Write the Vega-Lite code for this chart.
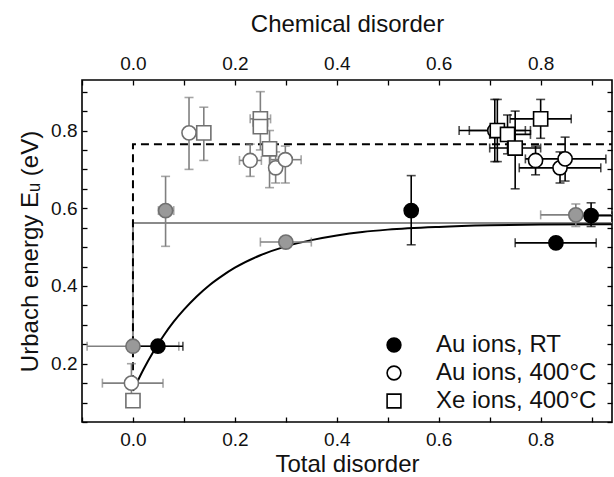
{
  "$schema": "https://vega.github.io/schema/vega-lite/v6.json",
  "width": 530,
  "height": 342,
  "autosize": {"type": "none"},
  "padding": {"left": 82, "top": 80, "right": 2, "bottom": 55},
  "background": "white",
  "config": {
    "font": "Liberation Sans",
    "view": {"stroke": "black", "strokeWidth": 1.6},
    "axis": {"grid": false, "domain": false, "tickColor": "black", "tickWidth": 1.3, "labelColor": "#111", "titleColor": "#111", "labelFont": "Liberation Sans", "titleFont": "Liberation Sans", "titleFontWeight": "normal", "labelOverlap": false}
  },
  "datasets": {
    "curve": [
      {"x": 0.0, "y": 0.13}, {"x": 0.02, "y": 0.184}, {"x": 0.04, "y": 0.231}, {"x": 0.06, "y": 0.272},
      {"x": 0.08, "y": 0.308}, {"x": 0.1, "y": 0.339}, {"x": 0.125, "y": 0.373}, {"x": 0.15, "y": 0.402},
      {"x": 0.175, "y": 0.426}, {"x": 0.2, "y": 0.447}, {"x": 0.25, "y": 0.479}, {"x": 0.3, "y": 0.502},
      {"x": 0.35, "y": 0.518}, {"x": 0.4, "y": 0.53}, {"x": 0.45, "y": 0.539}, {"x": 0.5, "y": 0.545},
      {"x": 0.6, "y": 0.552}, {"x": 0.7, "y": 0.556}, {"x": 0.8, "y": 0.558}, {"x": 0.94, "y": 0.559}
    ],
    "graystep": [
      {"i": 1, "x": 0.0, "y": 0.24}, {"i": 2, "x": 0.0, "y": 0.562}, {"i": 3, "x": 0.94, "y": 0.562}
    ],
    "dashstep": [
      {"i": 1, "x": 0.0, "y": 0.15}, {"i": 2, "x": 0.0, "y": 0.765}, {"i": 3, "x": 0.94, "y": 0.765}
    ],
    "pts": [
      {"set": "ref", "tone": "gray", "x": 0.0, "y": 0.245, "xlo": -0.09, "xhi": 0.09, "ylo": null, "yhi": null},
      {"set": "ref", "tone": "gray", "x": 0.064, "y": 0.594, "xlo": 0.05, "xhi": 0.08, "ylo": 0.502, "yhi": 0.682},
      {"set": "ref", "tone": "gray", "x": 0.3, "y": 0.513, "xlo": 0.25, "xhi": 0.35, "ylo": 0.5, "yhi": 0.525},
      {"set": "ref", "tone": "gray", "x": 0.869, "y": 0.583, "xlo": 0.8, "xhi": 0.94, "ylo": 0.553, "yhi": 0.611},
      {"set": "Au ions, RT", "tone": "black", "x": 0.049, "y": 0.245, "xlo": 0.0, "xhi": 0.098, "ylo": null, "yhi": null},
      {"set": "Au ions, RT", "tone": "black", "x": 0.546, "y": 0.594, "xlo": null, "xhi": null, "ylo": 0.506, "yhi": 0.684},
      {"set": "Au ions, RT", "tone": "black", "x": 0.83, "y": 0.511, "xlo": 0.75, "xhi": 0.909, "ylo": null, "yhi": null},
      {"set": "Au ions, RT", "tone": "black", "x": 0.899, "y": 0.581, "xlo": 0.86, "xhi": 0.94, "ylo": 0.553, "yhi": 0.614},
      {"set": "Au ions, 400°C", "tone": "gray", "x": -0.003, "y": 0.15, "xlo": -0.06, "xhi": 0.059, "ylo": 0.1, "yhi": 0.2},
      {"set": "Au ions, 400°C", "tone": "gray", "x": 0.11, "y": 0.794, "xlo": null, "xhi": null, "ylo": 0.7, "yhi": 0.885},
      {"set": "Au ions, 400°C", "tone": "gray", "x": 0.23, "y": 0.723, "xlo": 0.209, "xhi": 0.252, "ylo": 0.682, "yhi": 0.765},
      {"set": "Au ions, 400°C", "tone": "gray", "x": 0.28, "y": 0.704, "xlo": null, "xhi": null, "ylo": 0.665, "yhi": 0.745},
      {"set": "Au ions, 400°C", "tone": "gray", "x": 0.299, "y": 0.725, "xlo": 0.27, "xhi": 0.33, "ylo": 0.665, "yhi": 0.76},
      {"set": "Au ions, 400°C", "tone": "black", "x": 0.71, "y": 0.8, "xlo": 0.64, "xhi": 0.78, "ylo": 0.72, "yhi": 0.88},
      {"set": "Au ions, 400°C", "tone": "black", "x": 0.79, "y": 0.723, "xlo": null, "xhi": null, "ylo": 0.686, "yhi": 0.76},
      {"set": "Au ions, 400°C", "tone": "black", "x": 0.838, "y": 0.704, "xlo": 0.758, "xhi": 0.918, "ylo": 0.665, "yhi": 0.745},
      {"set": "Au ions, 400°C", "tone": "black", "x": 0.848, "y": 0.727, "xlo": 0.77, "xhi": 0.928, "ylo": 0.67, "yhi": 0.783},
      {"set": "Xe ions, 400°C", "tone": "gray", "x": 0.0, "y": 0.105, "xlo": null, "xhi": null, "ylo": null, "yhi": null},
      {"set": "Xe ions, 400°C", "tone": "gray", "x": 0.139, "y": 0.794, "xlo": null, "xhi": null, "ylo": 0.723, "yhi": 0.86},
      {"set": "Xe ions, 400°C", "tone": "gray", "x": 0.25, "y": 0.83, "xlo": 0.23, "xhi": 0.27, "ylo": 0.75, "yhi": 0.9},
      {"set": "Xe ions, 400°C", "tone": "gray", "x": 0.25, "y": 0.81, "xlo": null, "xhi": null, "ylo": null, "yhi": null},
      {"set": "Xe ions, 400°C", "tone": "gray", "x": 0.268, "y": 0.753, "xlo": null, "xhi": null, "ylo": 0.653, "yhi": 0.8},
      {"set": "Xe ions, 400°C", "tone": "black", "x": 0.715, "y": 0.8, "xlo": 0.66, "xhi": 0.77, "ylo": 0.72, "yhi": 0.88},
      {"set": "Xe ions, 400°C", "tone": "black", "x": 0.735, "y": 0.79, "xlo": 0.7, "xhi": 0.78, "ylo": 0.74, "yhi": 0.84},
      {"set": "Xe ions, 400°C", "tone": "black", "x": 0.75, "y": 0.755, "xlo": 0.7, "xhi": 0.8, "ylo": 0.65, "yhi": 0.85},
      {"set": "Xe ions, 400°C", "tone": "black", "x": 0.8, "y": 0.83, "xlo": 0.74, "xhi": 0.86, "ylo": 0.78, "yhi": 0.88}
    ]
  },
  "layer": [
    {
      "layer": [
        {
          "data": {"name": "graystep"},
          "mark": {"type": "line", "color": "#8a8a8a", "strokeWidth": 2},
          "encoding": {
            "x": {"field": "x", "type": "quantitative", "title": "Total disorder"},
            "y": {"field": "y", "type": "quantitative", "title": "Urbach energy Eᵤ (eV)"},
            "order": {"field": "i"}
          }
        },
        {
          "data": {"name": "dashstep"},
          "mark": {"type": "line", "color": "black", "strokeWidth": 2, "strokeDash": [8, 5]},
          "encoding": {
            "x": {"field": "x", "type": "quantitative", "title": "Total disorder"},
            "y": {"field": "y", "type": "quantitative", "title": "Urbach energy Eᵤ (eV)"},
            "order": {"field": "i"}
          }
        },
        {
          "data": {"name": "curve"},
          "mark": {"type": "line", "color": "black", "strokeWidth": 2, "interpolate": "monotone"},
          "encoding": {
            "x": {"field": "x", "type": "quantitative", "title": "Total disorder"},
            "y": {"field": "y", "type": "quantitative", "title": "Urbach energy Eᵤ (eV)"}
          }
        },
        {
          "data": {"name": "pts"},
          "transform": [{"filter": "isValid(datum.xlo)"}],
          "mark": {"type": "errorbar", "ticks": true, "thickness": 1.6, "size": 9},
          "encoding": {
            "x": {"field": "xlo", "type": "quantitative", "title": "Total disorder"},
            "x2": {"field": "xhi"},
            "y": {"field": "y", "type": "quantitative", "title": "Urbach energy Eᵤ (eV)"},
            "color": {"field": "tone", "type": "nominal", "scale": {"domain": ["gray", "black"], "range": ["#808080", "#000000"]}, "legend": null}
          }
        },
        {
          "data": {"name": "pts"},
          "transform": [{"filter": "isValid(datum.ylo)"}],
          "mark": {"type": "errorbar", "ticks": true, "thickness": 1.6, "size": 9},
          "encoding": {
            "y": {"field": "ylo", "type": "quantitative", "title": "Urbach energy Eᵤ (eV)"},
            "y2": {"field": "yhi"},
            "x": {"field": "x", "type": "quantitative", "title": "Total disorder"},
            "color": {"field": "tone", "type": "nominal", "scale": {"domain": ["gray", "black"], "range": ["#808080", "#000000"]}, "legend": null}
          }
        },
        {
          "data": {"name": "pts"},
          "transform": [{"filter": "datum.tone == 'black'"}],
          "mark": {"type": "point", "filled": true, "size": 200, "strokeWidth": 1.6, "opacity": 1, "fillOpacity": 1},
          "encoding": {
            "x": {"field": "x", "type": "quantitative", "title": "Total disorder", "scale": {"domain": [-0.1, 0.94], "nice": false, "zero": false},
              "axis": {"orient": "bottom", "values": [-0.1, 0.0, 0.1, 0.2, 0.3, 0.4, 0.5, 0.6, 0.7, 0.8, 0.9],
                "labelExpr": "(round(datum.value*10) % 2 == 0) ? format(datum.value, '.1f') : ''",
                "tickSize": -5, "labelPadding": 13, "labelFontSize": 19, "titleFontSize": 24, "titlePadding": 3, "labelFlush": false, "labelOverlap": false}},
            "y": {"field": "y", "type": "quantitative", "title": "Urbach energy Eᵤ (eV)", "scale": {"domain": [0.05, 0.93], "nice": false, "zero": false},
              "axis": {"orient": "left", "values": [0.2, 0.4, 0.6, 0.8], "format": ".1f",
                "tickSize": -5, "labelPadding": 10, "labelFontSize": 19, "titleFontSize": 24, "titlePadding": 8, "labelOverlap": false}},
            "shape": {"field": "set", "type": "nominal", "scale": {"domain": ["Au ions, RT", "Au ions, 400°C", "Xe ions, 400°C", "ref"], "range": ["circle", "circle", "square", "circle"]},
              "legend": {"values": ["Au ions, RT", "Au ions, 400°C", "Xe ions, 400°C"], "title": null, "orient": "none", "legendX": 300, "legendY": 253,
                "labelFontSize": 24, "labelFont": "Liberation Sans", "labelColor": "#111", "labelLimit": 400, "symbolSize": 190, "symbolStrokeWidth": 1.6, "rowPadding": 4, "labelOffset": 30}},
            "fill": {"field": "set", "type": "nominal", "scale": {"domain": ["Au ions, RT", "Au ions, 400°C", "Xe ions, 400°C", "ref"], "range": ["#000000", "#ffffff", "#ffffff", "#999999"]},
              "legend": {"values": ["Au ions, RT", "Au ions, 400°C", "Xe ions, 400°C"], "title": null, "orient": "none", "legendX": 300, "legendY": 253,
                "labelFontSize": 24, "labelFont": "Liberation Sans", "labelColor": "#111", "labelLimit": 400, "symbolSize": 190, "symbolStrokeWidth": 1.6, "rowPadding": 4, "labelOffset": 30}},
            "stroke": {"field": "set", "type": "nominal", "scale": {"domain": ["Au ions, RT", "Au ions, 400°C", "Xe ions, 400°C", "ref"], "range": ["#000000", "#000000", "#000000", "#707070"]},
              "legend": {"values": ["Au ions, RT", "Au ions, 400°C", "Xe ions, 400°C"], "title": null, "orient": "none", "legendX": 300, "legendY": 253,
                "labelFontSize": 24, "labelFont": "Liberation Sans", "labelColor": "#111", "labelLimit": 400, "symbolSize": 190, "symbolStrokeWidth": 1.6, "rowPadding": 4, "labelOffset": 30}}
          }
        },
        {
          "data": {"name": "pts"},
          "transform": [{"filter": "datum.tone == 'gray'"}],
          "mark": {"type": "point", "filled": true, "size": 200, "strokeWidth": 1.6, "opacity": 1, "fillOpacity": 1, "stroke": "#707070"},
          "encoding": {
            "x": {"field": "x", "type": "quantitative", "title": "Total disorder"},
            "y": {"field": "y", "type": "quantitative", "title": "Urbach energy Eᵤ (eV)"},
            "shape": {"field": "set", "type": "nominal"},
            "fill": {"field": "set", "type": "nominal"}
          }
        }
      ]
    },
    {
      "data": {"name": "curve"},
      "mark": {"type": "point", "opacity": 0},
      "encoding": {
        "x": {"field": "x", "type": "quantitative", "title": "Chemical disorder",
          "axis": {"orient": "top", "values": [-0.1, 0.0, 0.1, 0.2, 0.3, 0.4, 0.5, 0.6, 0.7, 0.8, 0.9],
            "labelExpr": "(round(datum.value*10) % 2 == 0) ? format(datum.value, '.1f') : ''",
            "tickSize": -5, "labelPadding": 12, "labelFontSize": 19, "titleFontSize": 24, "titlePadding": 18, "labelFlush": false, "labelOverlap": false}},
        "y": {"field": "y", "type": "quantitative", "title": null,
          "axis": {"orient": "right", "labels": false, "values": [0.05, 0.1, 0.15, 0.2, 0.25, 0.3, 0.35, 0.4, 0.45, 0.5, 0.55, 0.6, 0.65, 0.7, 0.75, 0.8, 0.85, 0.9], "tickSize": -5}}
      }
    },
    {
      "data": {"name": "curve"},
      "mark": {"type": "point", "opacity": 0},
      "encoding": {
        "x": {"field": "x", "type": "quantitative", "axis": null},
        "y": {"field": "y", "type": "quantitative", "title": null,
          "axis": {"orient": "left", "labels": false, "values": [0.05, 0.1, 0.15, 0.25, 0.3, 0.35, 0.45, 0.5, 0.55, 0.65, 0.7, 0.75, 0.85, 0.9], "tickSize": -5}}
      }
    }
  ],
  "resolve": {"axis": {"x": "independent", "y": "independent"}}
}
